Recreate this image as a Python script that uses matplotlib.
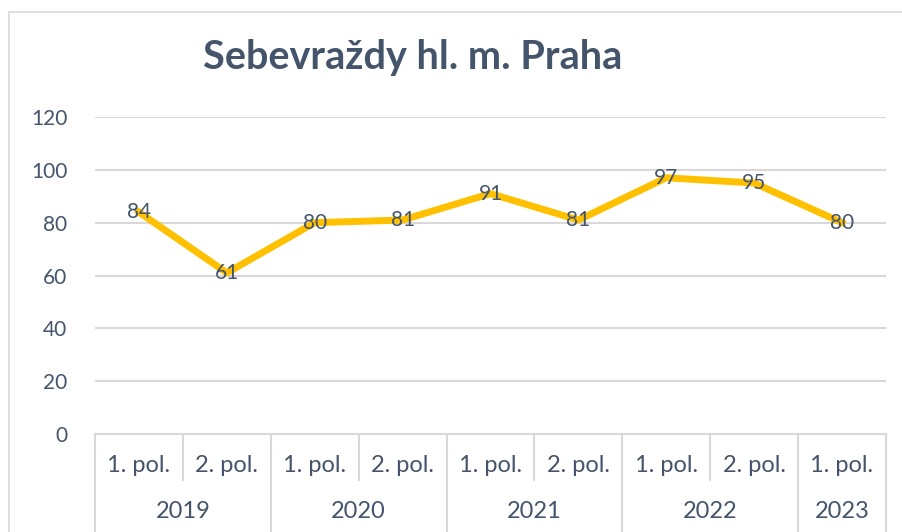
import numpy as np
from matplotlib import pyplot as plt
from matplotlib.patches import Rectangle
import matplotlib.transforms as mtransforms

# data
half_labels = ["1. pol.", "2. pol.", "1. pol.", "2. pol.", "1. pol.", "2. pol.", "1. pol.", "2. pol.", "1. pol."]
years = ["2019", "2020", "2021", "2022", "2023"]
year_spans = [2, 2, 2, 2, 1]
values = [84, 61, 80, 81, 91, 81, 97, 95, 80]
title = "Sebevraždy hl. m. Praha"

txt_col = "#44546A"
grid_col = "#D9D9D9"
plt.rcParams['font.family'] = ['Lato', 'DejaVu Sans']

W, H = 903, 532
fig = plt.figure(figsize=(W / 100, H / 100), dpi=100)

# outer chart frame
fig.patches.append(Rectangle((9 / W, -0.1), 1.0, 520 / H + 0.1, transform=fig.transFigure,
                             fill=False, edgecolor=grid_col, linewidth=1.2))

ax = fig.add_axes([95 / W, (H - 434) / H, (886 - 95) / W, (434 - 117) / H])
x = np.arange(len(values))
ax.plot(x, values, color="#FFC000", linewidth=5, solid_joinstyle="round", zorder=3)
for xi, v in zip(x, values):
    ax.text(xi, v, str(v), ha="center", va="center", fontsize=15, color=txt_col, zorder=4)

ax.set_xlim(-0.5, len(values) - 0.5)
ax.set_ylim(0, 120)
ax.set_yticks(np.arange(0, 121, 20))
ax.yaxis.grid(True, color=grid_col, linewidth=1.5)
ax.set_axisbelow(True)
ax.tick_params(axis="y", length=0, pad=20, labelsize=15, labelcolor=txt_col)
ax.set_xticks([])
for s in ["left", "right", "top"]:
    ax.spines[s].set_visible(False)
ax.spines["bottom"].set_color(grid_col)
ax.spines["bottom"].set_linewidth(1.5)

# multi-level category axis
trans = mtransforms.blended_transform_factory(ax.transData, ax.transAxes)
for xi, lab in zip(x, half_labels):
    ax.text(xi, -0.098, lab, transform=trans, ha="center", va="center", fontsize=17,
            color=txt_col, clip_on=False)
half_bottom = (434 - 480) / 317
year_bottom = (434 - 540) / 317
pos = -0.5
bounds = [pos]
for y, span in zip(years, year_spans):
    ax.text(pos + span / 2, -0.243, y, transform=trans, ha="center", va="center", fontsize=17,
            color=txt_col, clip_on=False)
    for k in range(1, span):
        ax.plot([pos + k, pos + k], [0, half_bottom], transform=trans, color=grid_col,
                linewidth=1.5, clip_on=False)
    pos += span
    bounds.append(pos)
for b in bounds:
    ax.plot([b, b], [0, year_bottom], transform=trans, color=grid_col, linewidth=1.5, clip_on=False)

fig.text(413 / W, (H - 58) / H, title, ha="center", va="center", fontsize=28.5,
         fontweight="bold", color=txt_col)

fig.savefig("out.png", dpi=100)
